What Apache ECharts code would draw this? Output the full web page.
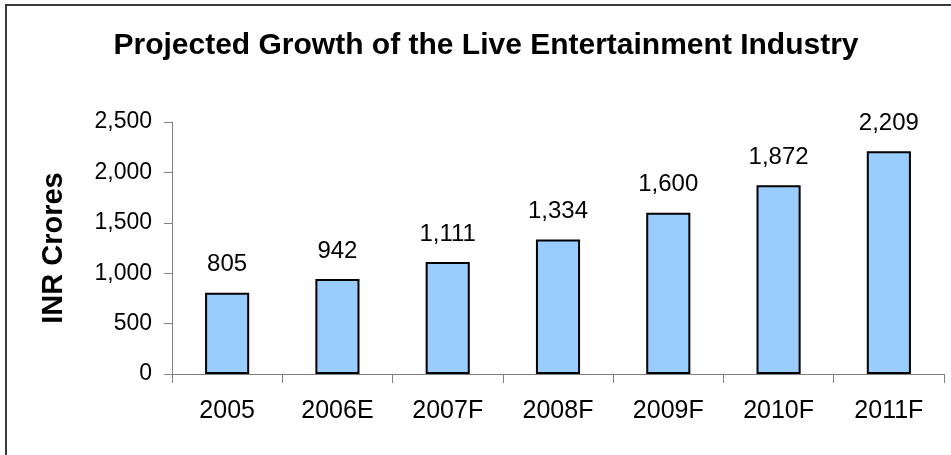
<!DOCTYPE html>
<html>
<head>
<meta charset="utf-8">
<script src="https://cdn.jsdelivr.net/npm/echarts@6/dist/echarts.min.js"></script>
<style>
html,body{margin:0;padding:0;background:#fff;}
#chart{width:951px;height:455px;}
</style>
</head>
<body>
<div id="chart"></div>
<script>
const titleText = 'Projected Growth of the Live Entertainment Industry';
const yAxisName = 'INR Crores';
const categories = ['2005', '2006E', '2007F', '2008F', '2009F', '2010F', '2011F'];
const values = [805, 942, 1111, 1334, 1600, 1872, 2209];
const yTicks = [0, 500, 1000, 1500, 2000, 2500];

function fmt(v) { return Number(v).toLocaleString('en-US'); }

const FONT = '"Liberation Sans", Arial, sans-serif';
const chart = echarts.init(document.getElementById('chart'), null, {renderer: 'canvas'});
chart.setOption({
  animation: false,
  backgroundColor: '#ffffff',
  title: {
    text: titleText,
    left: 481,
    textAlign: 'center',
    top: 26,
    textStyle: {fontFamily: FONT, fontSize: 30, fontWeight: 'bold', color: '#000'}
  },
  graphic: [{
    type: 'rect',
    shape: {x: 6, y: 5, width: 1200, height: 800},
    style: {fill: 'none', stroke: '#3a3a3a', lineWidth: 2},
    silent: true
  }],
  grid: {left: 172, right: 7, top: 122, bottom: 81, containLabel: false},
  xAxis: {
    type: 'category',
    data: categories,
    boundaryGap: true,
    axisLine: {lineStyle: {color: '#808080', width: 1}},
    axisTick: {show: true, alignWithLabel: false, length: 9, lineStyle: {color: '#808080'}},
    axisLabel: {fontFamily: FONT, fontSize: 25, color: '#000', margin: 25, interval: 0}
  },
  yAxis: {
    type: 'value',
    min: yTicks[0],
    max: yTicks[yTicks.length - 1],
    interval: 500,
    name: yAxisName,
    nameLocation: 'middle',
    nameRotate: 90,
    nameGap: 104,
    nameTextStyle: {fontFamily: FONT, fontSize: 29, fontWeight: 'bold', color: '#000'},
    axisLine: {show: true, lineStyle: {color: '#808080', width: 1}},
    axisTick: {show: true, length: 8, lineStyle: {color: '#808080'}},
    splitLine: {show: false},
    axisLabel: {fontFamily: FONT, fontSize: 23, color: '#000', margin: 20, formatter: fmt}
  },
  series: [{
    type: 'bar',
    data: values,
    barWidth: '40%',
    itemStyle: {color: '#99ccff', borderColor: '#000', borderWidth: 2},
    label: {
      show: true,
      position: 'top',
      distance: 16,
      fontFamily: FONT,
      fontSize: 24,
      color: '#000',
      formatter: p => fmt(p.value)
    }
  }]
});
</script>
</body>
</html>
